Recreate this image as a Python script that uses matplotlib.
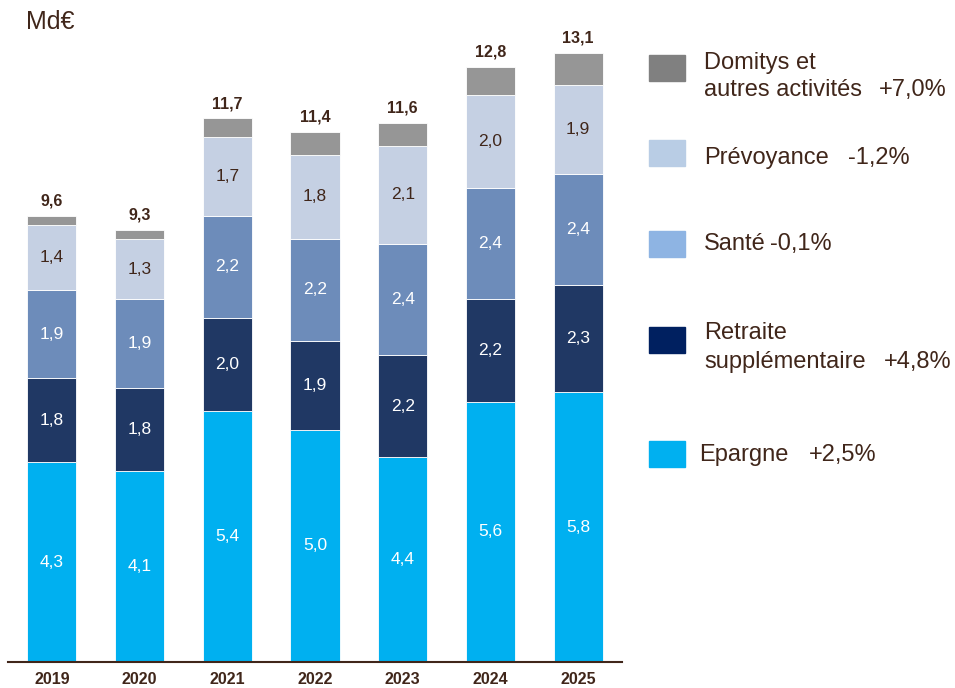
import matplotlib.pyplot as plt
import numpy as np

plt.rcParams['font.family'] = ['Liberation Sans', 'DejaVu Sans']

# Données (Md€)
annees = ["2019", "2020", "2021", "2022", "2023", "2024", "2025"]
epargne = [4.3, 4.1, 5.4, 5.0, 4.4, 5.6, 5.8]
retraite = [1.8, 1.8, 2.0, 1.9, 2.2, 2.2, 2.3]
sante = [1.9, 1.9, 2.2, 2.2, 2.4, 2.4, 2.4]
prevoyance = [1.4, 1.3, 1.7, 1.8, 2.1, 2.0, 1.9]
domitys = [0.2, 0.2, 0.4, 0.5, 0.5, 0.6, 0.7]
totaux = [9.6, 9.3, 11.7, 11.4, 11.6, 12.8, 13.1]

legende = [["Domitys et", "autres activités"], ["Prévoyance"], ["Santé"],
           ["Retraite", "supplémentaire"], ["Epargne"]]
evolutions = ["+7,0%", "-1,2%", "-0,1%", "+4,8%", "+2,5%"]

brun = "#40261a"
couleurs_barres = ["#00b0f0", "#203864", "#6d8cba", "#c5d0e3", "#969696"]
couleurs_legende = ["#808080", "#b9cde5", "#8eb4e3", "#002060", "#00b0f0"]
couleurs_texte = ["white", "white", "white", brun, None]

fig = plt.figure(figsize=(9.55, 6.88), dpi=100)
ax = fig.add_axes([8 / 955, 26 / 688, 614 / 955, 651 / 688])

x = np.arange(len(annees))
largeur = 0.56
series = [epargne, retraite, sante, prevoyance, domitys]
bas = np.zeros(len(annees))
for vals, coul, ctxt in zip(series, couleurs_barres, couleurs_texte):
    vals = np.array(vals)
    ax.bar(x, vals, largeur, bottom=bas, color=coul, edgecolor="white", linewidth=0.6)
    if ctxt:
        for xi, b, v in zip(x, bas, vals):
            ax.text(xi, b + v / 2, f"{v:.1f}".replace(".", ","), ha="center", va="center",
                    color=ctxt, fontsize=12.5)
    bas = bas + vals

for xi, h, t in zip(x, bas, totaux):
    ax.annotate(f"{t:.1f}".replace(".", ","), (xi, h), xytext=(0, 5), textcoords="offset points",
                ha="center", va="bottom", fontsize=11.5, fontweight="bold", color=brun)

ax.set_xlim(-0.5, 6.5)
ax.set_ylim(0, 14)
ax.set_xticks(x)
ax.set_xticklabels(annees, fontsize=11.5, fontweight="bold", color=brun)
ax.tick_params(axis="x", length=0, pad=7)
ax.set_yticks([])
for s in ["top", "right", "left"]:
    ax.spines[s].set_visible(False)
ax.spines["bottom"].set_color(brun)
ax.spines["bottom"].set_linewidth(1.5)

fig.text(26 / 955, 1 - 22 / 688, "Md€", fontsize=18, color=brun, ha="left", va="center")

# Légende manuelle (positions en pixels)
carres_y = [68, 153, 244, 340, 454]
lignes_y = [[63, 90], [158], [244], [333, 362], [455]]
pct_x = [879, 848, 770, 884, 809]
texte_x = [704, 704, 704, 704, 699]
for i in range(5):
    cy = carres_y[i]
    fig.patches.append(plt.Rectangle((649 / 955, 1 - (cy + 13) / 688), 36 / 955, 26 / 688,
                                     transform=fig.transFigure, color=couleurs_legende[i]))
    for txt, ly in zip(legende[i], lignes_y[i]):
        fig.text(texte_x[i] / 955, 1 - ly / 688, txt, fontsize=17, color=brun,
                 ha="left", va="center")
    fig.text(pct_x[i] / 955, 1 - lignes_y[i][-1] / 688, evolutions[i], fontsize=17, color=brun,
             ha="left", va="center")

fig.savefig("out.png", dpi=100)
